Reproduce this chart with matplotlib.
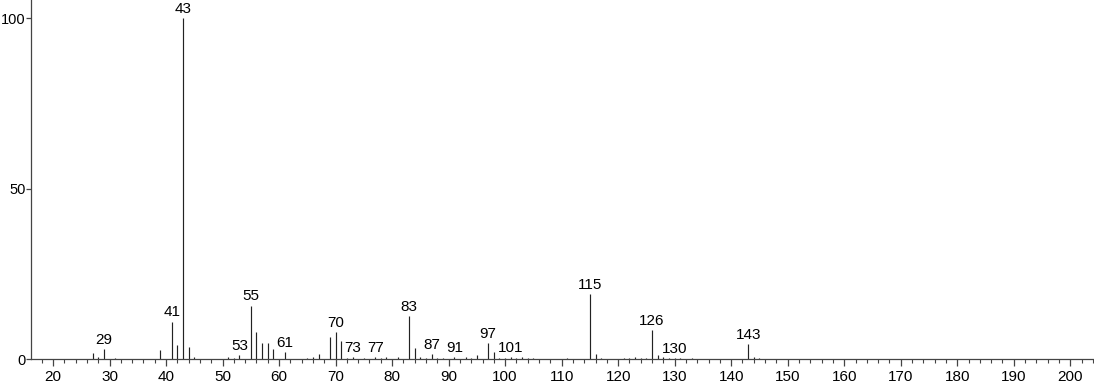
import matplotlib
matplotlib.use("Agg")
import matplotlib.pyplot as plt
from matplotlib.ticker import MultipleLocator

plt.rcParams['font.family'] = ['Liberation Sans', 'DejaVu Sans']

# m/z and relative intensity (%)
mz = [27, 28, 29, 31, 39, 41, 42, 43, 44, 45,
      51, 52, 53, 55, 56, 57, 58, 59, 61, 65,
      66, 67, 69, 70, 71, 72, 73, 75, 77, 78,
      79, 81, 83, 84, 85, 86, 87, 88, 89, 91,
      93, 94, 95, 97, 98, 99, 100, 101, 102, 103,
      104, 105, 111, 115, 116, 117, 121, 122, 123, 124,
      125, 126, 127, 128, 129, 130, 131, 133, 143, 144, 145]
intensity = [1.7, 0.5, 2.9, 0.3, 2.7, 11.0, 4.0, 100.0, 3.5, 0.6,
             0.6, 0.4, 1.3, 15.7, 7.8, 4.7, 4.7, 3.0, 2.0, 0.4,
             0.6, 1.6, 6.6, 7.8, 5.4, 0.3, 0.5, 0.3, 0.5, 0.4,
             0.7, 0.6, 12.6, 3.2, 0.5, 0.3, 1.5, 0.4, 0.3, 0.5,
             0.5, 0.3, 1.2, 4.7, 2.1, 0.4, 0.3, 0.7, 0.4, 0.5,
             0.3, 0.4, 0.3, 19.0, 1.6, 0.3, 0.4, 0.3, 0.5, 0.3,
             0.3, 8.6, 1.3, 0.5, 0.3, 0.4, 0.3, 0.4, 4.5, 0.6, 0.3]
labelled = [29, 41, 43, 53, 55, 61, 70, 73, 77, 83, 87, 91, 97, 101, 115, 126, 130, 143]

fig = plt.figure(figsize=(10.94, 3.84), dpi=100)
ax = fig.add_axes([0.0283, 0.065, 0.9717, 0.935])

ax.vlines(mz, 0, intensity, colors='#222222', linewidth=0.85)

for m, h in zip(mz, intensity):
    if m in labelled:
        ax.annotate(str(m), (m, h), xytext=(0, 1.5), textcoords='offset points',
                    ha='center', va='bottom', fontsize=11)

ax.set_xlim(16.1, 204.2)
ax.set_ylim(0, 105.3)
ax.xaxis.set_minor_locator(MultipleLocator(2))
ax.set_yticks([0, 50, 100])
ax.set_xticks(range(20, 201, 10))

for s in ['top', 'right']:
    ax.spines[s].set_visible(False)
for s in ['left', 'bottom']:
    ax.spines[s].set_color('#444444')
    ax.spines[s].set_linewidth(0.9)

ax.tick_params(axis='x', which='major', direction='out', length=5, width=0.9,
               color='#444444', labelsize=11, pad=3)
ax.tick_params(axis='x', which='minor', direction='out', length=3, width=0.8,
               color='#444444')
ax.tick_params(axis='y', which='major', direction='out', length=3.5, width=0.9,
               color='#444444', labelsize=10.5, pad=0.5)

fig.savefig("out.png", dpi=100)
